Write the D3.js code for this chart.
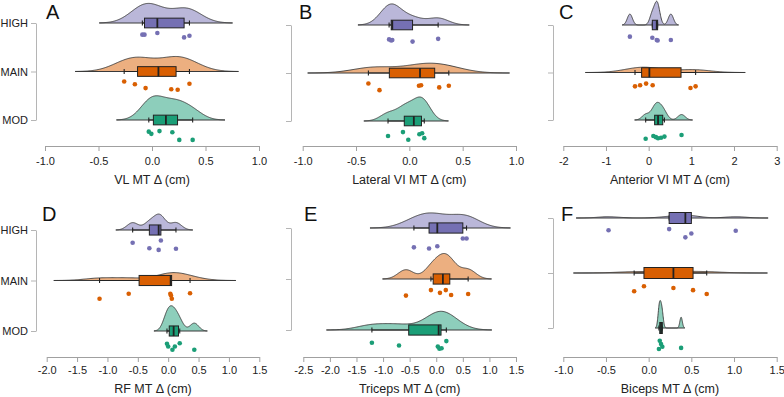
<!DOCTYPE html>
<html>
<head>
<meta charset="utf-8">
<script src="https://cdn.jsdelivr.net/npm/d3@7"></script>
<style>
  body { margin: 0; background: #fff; }
  svg { display: block; font-family: "Liberation Sans", Arial, sans-serif; }
</style>
</head>
<body>
<div id="chart"></div>
<script>
// Groups and colours
const groups = ["HIGH", "MAIN", "MOD"];
const groupColors = ["#7570b3", "#d95f02", "#1b9e77"];

// Individual changes (cm), one row per group: HIGH, MAIN, MOD
const vlValues = [
    [-0.09, -0.07, 0.05, 0.30, 0.35],
    [-0.26, -0.16, -0.06, 0.18, 0.24, 0.35],
    [-0.03, -0.006, 0.07, 0.19, 0.255, 0.38]
];
const latValues = [
    [-0.19, -0.17, -0.16, 0.03, 0.27],
    [-0.384, -0.28, 0.09, 0.11, 0.28, 0.37],
    [-0.2, -0.06, -0.01, 0.094, 0.12, 0.14]
];
const antValues = [
    [-0.44, 0.086, 0.19, 0.21, 0.52],
    [-0.32, -0.2, -0.06, 0.094, 0.98, 1.1],
    [-0.07, 0.11, 0.17, 0.22, 0.29, 0.37, 0.77]
];
const rfValues = [
    [-0.585, -0.31, -0.157, -0.12, 0.128],
    [-1.13, -0.65, 0.035, 0.046, 0.06, 0.36],
    [-0.02, 0.0, 0.07, 0.11, 0.19, 0.43]
];
const triValues = [
    [-0.42, -0.135, 0.02, 0.5, 0.57],
    [-0.57, -0.10, 0.07, 0.18, 0.28, 0.60],
    [-1.21, -0.70, 0.03, 0.06, 0.10, 0.19]
];
const bicValues = [
    [-0.47, 0.24, 0.43, 0.5, 1.02],
    [-0.17, -0.055, 0.29, 0.52, 0.68],
    [0.12, 0.13, 0.145, 0.16, 0.38]
];

// Vertical jitter of the raw points (0 = near the box, 1 = furthest below)
const vlJitter = [[0.15, 0.15, 0, 0.4, 0.25], [0, 0.25, 0.6, 0.7, 0.75, 0.2], [0.15, 0.35, 0.1, 0.2, 0.9, 0.9]];
const latJitter = [[0.4, 0.5, 0.45, 0.6, 0.35], [0.05, 0.65, 0.25, 0.2, 0.4, 0.25], [0.45, 0.1, 0.8, 0.3, 0.2, 0.65]];
const antJitter = [[0.15, 0.25, 0.45, 0.5, 0.45], [0.35, 0.25, 0.1, 0.25, 0.5, 0.35], [0.8, 0.55, 0.65, 0.75, 0.7, 0.6, 0.45]];
const rfJitter = [[0.25, 0.75, 0.9, 0.05, 0.8], [0.75, 0.3, 0.3, 0.45, 0.75, 0.25], [0.25, 0.5, 0.8, 0.5, 0.2, 0.8]];
const triJitter = [[0.85, 0.95, 0.75, 0.05, 0.05], [0.6, 0.1, 0.35, 0.1, 0.55, 0.45], [0.25, 0.5, 0.6, 0.8, 0.75, 0.1]];
const bicJitter = [[0.2, 0.1, 0.85, 0.5, 0.25], [0.75, 0.3, 0.45, 0.65, 1.0], [1.0, 0.25, 0.55, 0.8, 0.9]];

// Tick values for each x axis
const vlTicks = [-1, -0.5, 0, 0.5, 1];
const latTicks = [-1, -0.5, 0, 0.5, 1];
const antTicks = [-2, -1, 0, 1, 2, 3];
const rfTicks = [-2, -1.5, -1, -0.5, 0, 0.5, 1, 1.5];
const triTicks = [-2.5, -2, -1.5, -1, -0.5, 0, 0.5, 1, 1.5];
const bicTicks = [-1, -0.5, 0, 0.5, 1, 1.5];

// Panel layout
const panels = [
    { letter: "A", title: "VL MT Δ (cm)", values: vlValues, jitter: vlJitter, ticks: vlTicks, digits: 1,
      x0: 45, x1: 259, yAxisX: 36, yTop: 23, yBot: 120, xAxisY: 146, labels: true, lx: 46, ly: 19, pad: 6, titleDy: 38 },
    { letter: "B", title: "Lateral VI MT Δ (cm)", values: latValues, jitter: latJitter, ticks: latTicks, digits: 1,
      x0: 302.7, x1: 516, yAxisX: 291, yTop: 25, yBot: 121, xAxisY: 146, labels: false, lx: 299, ly: 19, pad: 6, titleDy: 38 },
    { letter: "C", title: "Anterior VI MT Δ (cm)", values: antValues, jitter: antJitter, ticks: antTicks, digits: 0,
      x0: 563.3, x1: 776.7, yAxisX: 553, yTop: 25, yBot: 120, xAxisY: 146, labels: false, lx: 559, ly: 19, pad: 6, titleDy: 38 },
    { letter: "D", title: "RF MT Δ (cm)", values: rfValues, jitter: rfJitter, ticks: rfTicks, digits: 1,
      x0: 46.7, x1: 259.3, yAxisX: 36, yTop: 230, yBot: 331, xAxisY: 357, labels: true, lx: 42, ly: 221, pad: 4, titleDy: 36 },
    { letter: "E", title: "Triceps MT Δ (cm)", values: triValues, jitter: triJitter, ticks: triTicks, digits: 1,
      x0: 303.3, x1: 516, yAxisX: 291, yTop: 228, yBot: 330, xAxisY: 357, labels: false, lx: 304, ly: 221, pad: 4, titleDy: 36 },
    { letter: "F", title: "Biceps MT Δ (cm)", values: bicValues, jitter: bicJitter, ticks: bicTicks, digits: 1,
      x0: 563.3, x1: 776.7, yAxisX: 553, yTop: 218, yBot: 328, xAxisY: 357, labels: false, lx: 561, ly: 221, pad: 4, titleDy: 36 }
];

// Silverman's rule of thumb (R bw.nrd0)
function bandwidth(v) {
    const s = v.slice().sort(d3.ascending);
    const iqr = d3.quantileSorted(s, 0.75) - d3.quantileSorted(s, 0.25);
    const lo = Math.min(d3.deviation(s), iqr / 1.34);
    return 0.9 * lo * Math.pow(s.length, -0.2);
}

// Gaussian kernel density, cut at 3 bandwidths like R's density()
function kde(v) {
    const bw = bandwidth(v);
    const lo = d3.min(v) - 3 * bw, hi = d3.max(v) + 3 * bw;
    return d3.range(201).map(i => {
        const g = lo + (hi - lo) * i / 200;
        const d = d3.mean(v, x => Math.exp(-0.5 * ((g - x) / bw) ** 2)) / (bw * Math.sqrt(2 * Math.PI));
        return [g, d];
    });
}

function boxStats(v) {
    const s = v.slice().sort(d3.ascending);
    const q1 = d3.quantileSorted(s, 0.25), med = d3.quantileSorted(s, 0.5), q3 = d3.quantileSorted(s, 0.75);
    const iqr = q3 - q1;
    const lo = d3.min(s.filter(x => x >= q1 - 1.5 * iqr));
    const hi = d3.max(s.filter(x => x <= q3 + 1.5 * iqr));
    return { q1, med, q3, lo, hi };
}

const svg = d3.select("#chart").append("svg")
    .attr("width", 784)
    .attr("height", 397);

svg.append("rect").attr("width", 784).attr("height", 397).attr("fill", "#fff");

panels.forEach(p => {
    const g = svg.append("g");

    const x = d3.scaleLinear()
        .domain([p.ticks[0], p.ticks[p.ticks.length - 1]])
        .range([p.x0, p.x1]);

    const y = d3.scalePoint()
        .domain(groups)
        .range([p.yTop, p.yBot]);

    const step = y.step();
    const dens = p.values.map(kde);
    const maxD = d3.max(dens, d => d3.max(d, e => e[1]));
    const h = d3.scaleLinear().domain([0, maxD]).range([0, step * 0.5]);
    const jit = d3.scaleLinear().domain([0, 1]).range([10, 21]);
    const boxH = step * 0.2;

    // y axis
    const ya = g.append("g")
        .attr("transform", `translate(${p.yAxisX},0)`)
        .call(d3.axisLeft(y).tickSize(5).tickSizeOuter(0).tickPadding(3));
    ya.select(".domain").attr("stroke", "#b5b5b5");
    ya.selectAll(".tick line").attr("stroke", "#b5b5b5");
    ya.selectAll(".tick text")
        .attr("fill", "#222")
        .attr("font-size", "11px")
        .attr("font-family", "Liberation Sans, Arial, sans-serif")
        .text(d => p.labels ? d : "");

    // x axis
    const xa = g.append("g")
        .attr("transform", `translate(0,${p.xAxisY})`)
        .call(d3.axisBottom(x)
            .tickValues(p.ticks)
            .tickSize(5)
            .tickSizeOuter(0)
            .tickPadding(p.pad)
            .tickFormat(d => d.toFixed(p.digits)));
    xa.select(".domain").attr("stroke", "#a0a0a0");
    xa.selectAll(".tick line").attr("stroke", "#a0a0a0");
    xa.selectAll(".tick text")
        .attr("fill", "#222")
        .attr("font-size", "11px")
        .attr("font-family", "Liberation Sans, Arial, sans-serif");

    // x axis title
    g.append("text")
        .attr("x", (p.x0 + p.x1) / 2)
        .attr("y", p.xAxisY + p.titleDy)
        .attr("text-anchor", "middle")
        .attr("font-size", "12.5px")
        .attr("fill", "#222")
        .text(p.title);

    // panel letter
    g.append("text")
        .attr("x", p.lx)
        .attr("y", p.ly)
        .attr("font-family", "Liberation Sans, Arial, sans-serif")
        .attr("font-size", "20px")
        .attr("fill", "#111")
        .text(p.letter);

    groups.forEach((grp, i) => {
        const base = y(grp);
        const col = groupColors[i];

        // cloud
        const area = d3.area()
            .x(d => x(d[0]))
            .y0(base)
            .y1(d => base - h(d[1]))
            .curve(d3.curveLinear);
        g.append("path")
            .datum(dens[i])
            .attr("d", area)
            .attr("fill", col)
            .attr("fill-opacity", 0.5)
            .attr("stroke", "none");
        g.append("path")
            .datum(dens[i])
            .attr("d", d3.line().x(d => x(d[0])).y(d => base - h(d[1])))
            .attr("fill", "none")
            .attr("stroke", "#3a3a3a")
            .attr("stroke-width", 0.9);
        g.append("line")
            .attr("x1", x(dens[i][0][0]))
            .attr("x2", x(dens[i][dens[i].length - 1][0]))
            .attr("y1", base).attr("y2", base)
            .attr("stroke", "#3a3a3a")
            .attr("stroke-width", 1);

        // box and whiskers
        const b = boxStats(p.values[i]);
        g.append("line")
            .attr("x1", x(b.lo)).attr("x2", x(b.hi))
            .attr("y1", base).attr("y2", base)
            .attr("stroke", "#222").attr("stroke-width", 1.1);
        [b.lo, b.hi].forEach(v => {
            g.append("line")
                .attr("x1", x(v)).attr("x2", x(v))
                .attr("y1", base - 2.5).attr("y2", base + 2.5)
                .attr("stroke", "#222").attr("stroke-width", 1.1);
        });
        g.append("rect")
            .attr("x", x(b.q1))
            .attr("y", base - boxH / 2)
            .attr("width", x(b.q3) - x(b.q1))
            .attr("height", boxH)
            .attr("fill", col)
            .attr("stroke", "#222")
            .attr("stroke-width", 1);
        g.append("line")
            .attr("x1", x(b.med)).attr("x2", x(b.med))
            .attr("y1", base - boxH / 2).attr("y2", base + boxH / 2)
            .attr("stroke", "#222").attr("stroke-width", 1.8);

        // raw points
        g.selectAll(null)
            .data(p.values[i].map((v, k) => ({ v, j: p.jitter[i][k] })))
            .enter()
            .append("circle")
            .attr("cx", d => x(d.v))
            .attr("cy", d => base + jit(d.j))
            .attr("r", 2.3)
            .attr("fill", col);
    });
});
</script>
</body>
</html>
